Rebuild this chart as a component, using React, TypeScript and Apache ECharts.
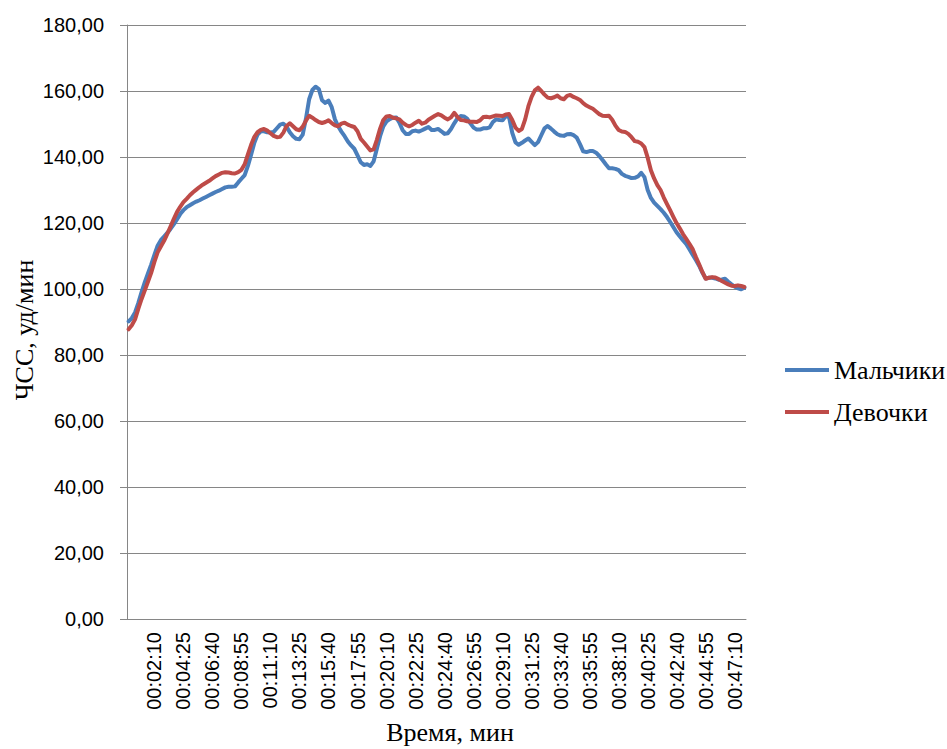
import React, { useEffect, useRef } from "react";
import * as echarts from "echarts";

// Time axis: one sample every 15 s, first sample at 00:00:10
const startSeconds = 10;
const stepSeconds = 15;

const xTickLabels = [
  "00:02:10", "00:04:25", "00:06:40", "00:08:55", "00:11:10", "00:13:25", "00:15:40",
  "00:17:55", "00:20:10", "00:22:25", "00:24:40", "00:26:55", "00:29:10", "00:31:25",
  "00:33:40", "00:35:55", "00:38:10", "00:40:25", "00:42:40", "00:44:55", "00:47:10",
];

const seriesNames = ["Мальчики", "Девочки"];

const boys = [
  90.2, 91.2, 92.9, 95.7, 99.0, 102.0, 104.7, 107.4, 110.3, 113.1,
  114.8, 115.9, 117.0, 118.2, 119.6, 121.1, 122.7, 123.9, 124.8, 125.4,
  126.0, 126.5, 126.9, 127.4, 127.9, 128.4, 128.9, 129.4, 129.8, 130.3,
  130.8, 131.0, 131.0, 131.1, 132.3, 133.4, 134.5, 137.3, 140.7, 144.3,
  146.8, 147.8, 147.8, 147.5, 147.4, 147.6, 148.7, 149.8, 150.1, 149.2,
  147.5, 146.3, 145.5, 145.4, 146.8, 151.6, 157.5, 160.3, 161.3, 160.6,
  157.2, 156.4, 157.1, 155.1, 151.4, 149.3, 147.7, 146.3, 144.7, 143.5,
  142.5, 140.5, 138.4, 137.6, 137.8, 137.3, 138.7, 142.5, 146.3, 149.3,
  150.8, 151.5, 151.9, 152.0, 150.4, 148.1, 147.0, 147.0, 147.8, 148.0,
  147.7, 148.1, 148.6, 149.1, 148.2, 148.2, 148.5, 147.8, 147.0, 147.2,
  148.5, 150.2, 151.7, 152.4, 152.3, 151.6, 150.2, 148.9, 148.3, 148.3,
  148.7, 148.7, 149.0, 150.6, 151.4, 151.2, 151.1, 152.4, 152.1, 147.3,
  144.4, 143.7, 144.3, 145.0, 145.6, 144.6, 143.6, 144.5, 146.6, 148.7,
  149.4, 148.6, 147.7, 146.9, 146.5, 146.4, 146.9, 147.0, 146.6, 145.9,
  143.9, 141.7, 141.5, 141.8, 141.8, 141.3, 140.3, 139.1, 137.8, 136.6,
  136.6, 136.4, 136.0, 134.9, 134.3, 134.0, 133.6, 133.7, 134.1, 135.2,
  133.9, 130.0, 127.6, 126.2, 125.2, 124.2, 123.1, 121.8, 120.3, 118.7,
  117.1, 115.9, 114.7, 113.6, 112.0, 110.3, 108.7, 107.0, 104.9, 103.2,
  103.4, 103.4, 103.2, 102.8, 102.9, 103.1, 102.2, 101.4, 100.7, 100.2,
  99.9, 100.4,
];

const girls = [
  87.8, 89.0, 90.8, 94.0, 96.9, 99.5, 102.2, 104.9, 108.2, 111.1,
  112.9, 114.6, 116.7, 118.9, 121.2, 123.3, 124.9, 126.3, 127.3, 128.4,
  129.3, 130.1, 130.9, 131.6, 132.2, 132.8, 133.5, 134.2, 134.7, 135.2,
  135.4, 135.3, 135.1, 135.0, 135.4, 136.1, 137.8, 140.8, 143.7, 146.1,
  147.5, 148.2, 148.5, 148.0, 147.2, 146.4, 146.0, 146.1, 147.4, 149.4,
  150.2, 149.3, 148.4, 148.1, 149.2, 151.0, 152.5, 151.9, 151.2, 150.6,
  150.3, 150.6, 151.1, 150.3, 149.6, 149.3, 150.1, 150.4, 149.8, 149.4,
  149.1, 147.8, 145.5, 144.4, 143.2, 142.0, 142.3, 145.2, 148.6, 151.2,
  152.3, 152.4, 151.9, 151.7, 151.4, 150.4, 149.7, 149.3, 149.7, 150.4,
  151.0, 150.1, 150.4, 151.3, 151.9, 152.5, 153.0, 152.6, 151.9, 151.4,
  152.0, 153.4, 152.1, 151.2, 151.1, 150.8, 150.7, 150.7, 150.6, 151.1,
  152.1, 152.2, 152.0, 152.3, 152.6, 152.5, 152.4, 152.9, 153.0, 151.2,
  148.9, 147.9, 148.5, 151.4, 155.4, 158.2, 160.2, 161.0, 160.0, 158.9,
  158.0, 157.8, 158.1, 158.6, 157.8, 157.5, 158.5, 158.8, 158.2, 157.8,
  157.3, 156.3, 155.6, 155.1, 154.6, 153.8, 153.0, 152.5, 152.4, 152.5,
  151.3, 149.5, 148.2, 147.7, 147.6, 147.0, 146.0, 144.8, 144.6, 144.1,
  143.0, 139.8, 136.0, 133.5, 131.5, 130.0, 127.7, 125.7, 123.8, 121.8,
  119.9, 118.3, 116.6, 115.1, 113.6, 112.0, 109.6, 107.4, 105.1, 103.1,
  103.4, 103.6, 103.5, 103.0, 102.4, 101.9, 101.4, 101.0, 100.9, 101.1,
  100.9, 100.6,
];

const yMin = 0;
const yMax = 180;
const yStep = 20;

function hms(totalSeconds: number): string {
  const h = Math.floor(totalSeconds / 3600);
  const m = Math.floor((totalSeconds % 3600) / 60);
  const s = totalSeconds % 60;
  const p = (n: number) => String(n).padStart(2, "0");
  return `${p(h)}:${p(m)}:${p(s)}`;
}

const categories = boys.map((_, i) => hms(startSeconds + i * stepSeconds));

export default function App() {
  const ref = useRef<HTMLDivElement>(null);

  useEffect(() => {
    document.body.style.margin = "0";
    if (!ref.current) return;
    const chart = echarts.init(ref.current, undefined, { renderer: "svg" });
    const sansFont = "'Liberation Sans', Arial, sans-serif";
    const serifFont = "'Liberation Serif', 'Times New Roman', serif";
    const gridColor = "#868686";

    chart.setOption({
      animation: false,
      backgroundColor: "#ffffff",
      grid: {
        left: 127,
        right: 201,
        top: 25,
        bottom: 130,
        containLabel: false,
        outerBoundsMode: "none",
      },
      legend: {
        orient: "vertical",
        left: 780,
        top: 352,
        itemGap: 16,
        itemWidth: 44,
        itemHeight: 4,
        icon: "rect",
        data: seriesNames,
        textStyle: { fontFamily: serifFont, fontSize: 26, color: "#000" },
      },
      xAxis: {
        type: "category",
        data: categories,
        boundaryGap: true,
        axisLine: { show: true, lineStyle: { color: gridColor, width: 1 } },
        axisTick: { show: false },
        splitLine: { show: false },
        axisLabel: {
          rotate: 90,
          margin: 13,
          interval: (_index: number, value: string) => xTickLabels.includes(value),
          fontFamily: sansFont,
          fontSize: 20,
          color: "#000",
        },
      },
      yAxis: {
        type: "value",
        min: yMin,
        max: yMax,
        interval: yStep,
        axisLine: { show: true, lineStyle: { color: gridColor, width: 1 } },
        axisTick: { show: true, inside: false, length: 7, lineStyle: { color: gridColor } },
        splitLine: { show: true, lineStyle: { color: gridColor, width: 1 } },
        axisLabel: {
          margin: 23,
          fontFamily: sansFont,
          fontSize: 20,
          color: "#000",
          formatter: (v: number) => v.toFixed(2).replace(".", ","),
        },
      },
      graphic: [
        {
          type: "text",
          x: 24,
          y: 330,
          rotation: Math.PI / 2,
          style: {
            text: "ЧСС, уд/мин",
            fontFamily: serifFont,
            fontSize: 26,
            fill: "#000",
            align: "center",
            verticalAlign: "middle",
          },
        },
        {
          type: "text",
          x: 450,
          y: 732,
          style: {
            text: "Время, мин",
            fontFamily: serifFont,
            fontSize: 26,
            fill: "#000",
            align: "center",
            verticalAlign: "middle",
          },
        },
      ],
      series: [
        {
          name: seriesNames[0],
          type: "line",
          data: boys,
          showSymbol: false,
          symbol: "none",
          color: "#4a7ebb",
          lineStyle: { width: 4, color: "#4a7ebb", join: "round", cap: "round" },
        },
        {
          name: seriesNames[1],
          type: "line",
          data: girls,
          showSymbol: false,
          symbol: "none",
          color: "#be4b48",
          lineStyle: { width: 4, color: "#be4b48", join: "round", cap: "round" },
        },
      ],
    });

    return () => chart.dispose();
  }, []);

  return <div ref={ref} style={{ width: 947, height: 749 }} />;
}
